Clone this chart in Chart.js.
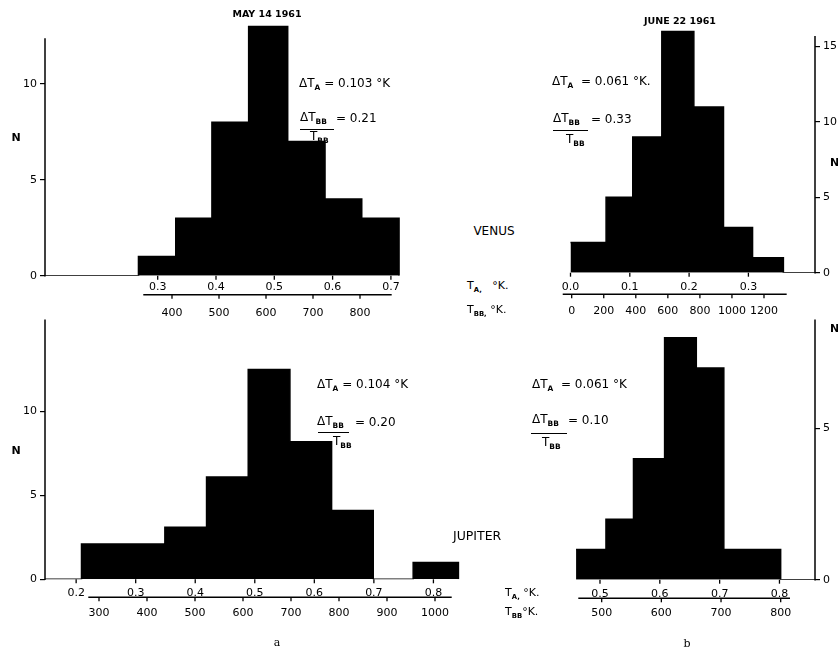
<!DOCTYPE html>
<html>
<head>
<meta charset="utf-8">
<script src="https://cdn.jsdelivr.net/npm/chart.js@4/dist/chart.umd.min.js"></script>
<style>
  html, body { margin:0; padding:0; background:#fff; }
  body { width:838px; height:652px; position:relative; overflow:hidden; font-family:'DejaVu Sans', sans-serif; color:#000; }
  canvas { position:absolute; }
  .t { position:absolute; white-space:nowrap; line-height:1; transform:translateY(-50%); font-size:12px; z-index:2; }
  .c { transform:translate(-50%,-50%); }
  .b { font-weight:bold; }
  .s { font-size:0.62em; vertical-align:-0.35em; font-weight:bold; }
  .fr { position:absolute; height:0; border-top:1.3px solid #000; z-index:2; }
  .serif { font-family:'DejaVu Serif', 'Liberation Serif', serif; }
</style>
</head>
<body>
<canvas id="cA" width="420" height="330" style="left:0px;top:0px"></canvas>
<canvas id="cB" width="308" height="330" style="left:530px;top:0px"></canvas>
<canvas id="cC" width="480" height="342" style="left:0px;top:310px"></canvas>
<canvas id="cD" width="308" height="342" style="left:530px;top:310px"></canvas>

<!-- titles -->
<div class="t c b" style="left:267px;top:14px;font-size:9.5px">MAY 14 1961</div>
<div class="t c b" style="left:680px;top:21px;font-size:9.5px">JUNE 22 1961</div>

<!-- N labels -->
<div class="t c b" style="left:16px;top:137px;font-size:11px">N</div>
<div class="t c b" style="left:16px;top:450px;font-size:11px">N</div>
<div class="t b" style="left:830px;top:162px;font-size:11px">N</div>
<div class="t b" style="left:830px;top:328px;font-size:11px">N</div>

<!-- Panel A annotations -->
<div class="t" style="left:299px;top:84px">&Delta;T<span class="s">A</span> = 0.103 °K</div>
<div class="t" style="left:300px;top:118px">&Delta;T<span class="s">BB</span></div>
<div class="t" style="left:336px;top:118px">= 0.21</div>
<div class="fr" style="left:300px;top:129px;width:34px"></div>
<div class="t" style="left:310px;top:137px">T<span class="s">BB</span></div>

<!-- Panel B annotations -->
<div class="t" style="left:552px;top:82px">&Delta;T<span class="s">A</span>&nbsp; = 0.061 °K.</div>
<div class="t" style="left:553px;top:119px">&Delta;T<span class="s">BB</span></div>
<div class="t" style="left:591px;top:119px">= 0.33</div>
<div class="fr" style="left:553px;top:130px;width:35px"></div>
<div class="t" style="left:566px;top:140px">T<span class="s">BB</span></div>
<div class="t c" style="left:494px;top:231px">VENUS</div>
<div class="t" style="left:467px;top:287px;font-size:11px">T<span class="s">A,</span>&nbsp;&nbsp;&nbsp;°K.</div>
<div class="t" style="left:467px;top:311px;font-size:11px">T<span class="s">BB,</span> °K.</div>

<!-- Panel C annotations -->
<div class="t" style="left:317px;top:385px">&Delta;T<span class="s">A</span> = 0.104 °K</div>
<div class="t" style="left:317px;top:422px">&Delta;T<span class="s">BB</span></div>
<div class="t" style="left:355px;top:422px">= 0.20</div>
<div class="fr" style="left:318px;top:432px;width:31px"></div>
<div class="t" style="left:333px;top:442px">T<span class="s">BB</span></div>
<div class="t" style="left:453px;top:536px;font-size:12.5px">JUPITER</div>
<div class="t serif c" style="left:277px;top:642px;font-size:11px">a</div>

<!-- Panel D annotations -->
<div class="t" style="left:532px;top:385px">&Delta;T<span class="s">A</span>&nbsp; = 0.061 °K</div>
<div class="t" style="left:532px;top:420px">&Delta;T<span class="s">BB</span></div>
<div class="t" style="left:568px;top:420px">= 0.10</div>
<div class="fr" style="left:531px;top:433px;width:36px"></div>
<div class="t" style="left:542px;top:443px">T<span class="s">BB</span></div>
<div class="t" style="left:505px;top:594px;font-size:11px">T<span class="s">A,</span> °K.</div>
<div class="t" style="left:505px;top:613px;font-size:11px">T<span class="s">BB</span>°K.</div>
<div class="t serif c" style="left:687px;top:643px;font-size:11px">b</div>

<script>
// ---------------- DATA ----------------
// Bin edges are on the T_A (°K) scale; counts are N per bin.
const venusMayEdges   = [0.267, 0.331, 0.393, 0.456, 0.523, 0.587, 0.650, 0.714];
const venusMayCounts  = [1, 3, 8, 13, 7, 4, 3];
const venusJuneEdges  = [0.000, 0.060, 0.105, 0.154, 0.208, 0.258, 0.307, 0.359];
const venusJuneCounts = [2, 5, 9, 16, 11, 3, 1];
const jupiterMayEdges  = [0.209, 0.279, 0.349, 0.419, 0.489, 0.559, 0.629, 0.699, 0.766, 0.842];
const jupiterMayCounts = [2.1, 2.1, 3.1, 6.1, 12.5, 8.2, 4.1, 0, 1];
const jupiterJuneEdges  = [0.460, 0.510, 0.556, 0.608, 0.661, 0.707, 0.754, 0.802];
const jupiterJuneCounts = [1, 2, 4, 8, 7, 1, 1];

// tick labels
const taTicksVenusMay   = [0.3, 0.4, 0.5, 0.6, 0.7];
const tbbTicksVenusMay  = [400, 500, 600, 700, 800];
const nTicksVenusMay    = [0, 5, 10];
const taTicksVenusJune  = [0.0, 0.1, 0.2, 0.3];
const tbbTicksVenusJune = [0, 200, 400, 600, 800, 1000, 1200];
const nTicksVenusJune   = [0, 5, 10, 15];
const taTicksJupMay     = [0.2, 0.3, 0.4, 0.5, 0.6, 0.7, 0.8];
const tbbTicksJupMay    = [300, 400, 500, 600, 700, 800, 900, 1000];
const nTicksJupMay      = [0, 5, 10];
const taTicksJupJune    = [0.5, 0.6, 0.7, 0.8];
const tbbTicksJupJune   = [500, 600, 700, 800];
const nTicksJupJune     = [0, 5];

// ---------------- RENDER ----------------
Chart.defaults.font.family = "'DejaVu Sans', sans-serif";
Chart.defaults.font.size = 11;
Chart.defaults.color = '#000';

function stepPoints(edges, counts, lead, trail) {
  const pts = [];
  if (lead !== null) pts.push({x: lead, y: 0});
  counts.forEach((c, i) => pts.push({x: edges[i], y: c}));
  pts.push({x: edges[edges.length - 1], y: 0});
  if (trail !== null) pts.push({x: trail, y: 0});
  return pts;
}

const deco = {
  id: 'deco',
  afterDatasetsDraw(chart, args, o) {
    const {ctx, chartArea: ca, scales: {x, x2, y}} = chart;
    ctx.save();
    ctx.strokeStyle = '#000';
    const L = (a, b, c, d, w) => { ctx.lineWidth = w; ctx.beginPath(); ctx.moveTo(a, b); ctx.lineTo(c, d); ctx.stroke(); };
    const ax = o.side === 'right' ? ca.right : ca.left;
    L(ax, y.getPixelForValue(o.axisTop), ax, y.getPixelForValue(0) + 0.75, 1.5);
    const sy = x2.top;
    L(x2.getPixelForValue(o.sep[0]), sy, x2.getPixelForValue(o.sep[1]), sy, 1.5);
    x2.ticks.forEach(t => { const p = x2.getPixelForValue(t.value); L(p, sy, p, sy + 4, 1.3); });
    x.ticks.forEach(t => { const p = x.getPixelForValue(t.value); L(p, x.top, p, x.top + 4, 1.3); });
    ctx.restore();
  }
};

function makePanel(id, cfg) {
  const fixTicks = arr => (axis) => { axis.ticks = arr.map(v => ({value: v})); };
  new Chart(document.getElementById(id), {
    type: 'line',
    data: {
      datasets: [{
        data: stepPoints(cfg.edges, cfg.counts, cfg.lead ? cfg.x.min : null, cfg.trail ? cfg.x.max : null),
        stepped: true,
        fill: 'origin',
        backgroundColor: '#000',
        borderColor: '#000',
        borderWidth: 1.5,
        borderJoinStyle: 'miter',
        pointRadius: 0,
        tension: 0
      }]
    },
    options: {
      responsive: false,
      animation: false,
      events: [],
      layout: { padding: cfg.padding },
      plugins: {
        legend: { display: false },
        tooltip: { enabled: false },
        deco: { side: cfg.side, axisTop: cfg.axisTop, sep: cfg.sep }
      },
      scales: {
        x: {
          type: 'linear', position: 'bottom', weight: 0,
          min: cfg.x.min, max: cfg.x.max,
          grid: { display: false, drawTicks: false },
          border: { display: false },
          ticks: { padding: cfg.x.pad, callback: v => v.toFixed(1), maxRotation: 0, autoSkip: false },
          afterBuildTicks: fixTicks(cfg.taTicks),
          afterFit: a => { a.height = cfg.x.h; }
        },
        x2: {
          type: 'linear', axis: 'x', position: 'bottom', weight: 1,
          min: cfg.x2.min, max: cfg.x2.max,
          grid: { display: false, drawTicks: false },
          border: { display: false },
          ticks: { padding: cfg.x2.pad, callback: v => String(Math.round(v)), maxRotation: 0, autoSkip: false },
          afterBuildTicks: fixTicks(cfg.tbbTicks),
          afterFit: a => { a.height = cfg.x2.h; }
        },
        y: {
          type: 'linear', position: cfg.side,
          min: 0, max: cfg.yMax,
          grid: { display: true, drawOnChartArea: false, drawTicks: true, tickLength: 5, color: '#000', lineWidth: 1.2 },
          border: { display: false },
          ticks: { padding: 3, callback: v => String(v), autoSkip: false },
          afterBuildTicks: fixTicks(cfg.nTicks),
          afterFit: a => { a.width = cfg.yW; }
        }
      }
    },
    plugins: [deco]
  });
}

makePanel('cA', {
  edges: venusMayEdges, counts: venusMayCounts, lead: true, trail: false,
  taTicks: taTicksVenusMay, tbbTicks: tbbTicksVenusMay, nTicks: nTicksVenusMay,
  side: 'left', yW: 45, yMax: 13.5, axisTop: 12.38,
  padding: { top: 16.9, right: 20, left: 0, bottom: 0 },
  x: { min: 0.1067, max: 0.7156, h: 19, pad: 4.7 },
  x2: { min: 129.8, max: 885.1, h: 35.3, pad: 11.7 },
  sep: [338.9, 867.4]
});

makePanel('cB', {
  edges: venusJuneEdges, counts: venusJuneCounts, lead: false, trail: true,
  taTicks: taTicksVenusJune, tbbTicks: tbbTicksVenusJune, nTicks: nTicksVenusJune,
  side: 'right', yW: 23, yMax: 16.5, axisTop: 15.7,
  padding: { top: 24, right: 0, left: 15, bottom: 0 },
  x: { min: -0.043, max: 0.4123, h: 21.6, pad: 7.7 },
  x2: { min: -166.6, max: 1518.3, h: 35.7, pad: 10.1 },
  sep: [-56, 1341.6]
});

makePanel('cC', {
  edges: jupiterMayEdges, counts: jupiterMayCounts, lead: true, trail: false,
  taTicks: taTicksJupMay, tbbTicks: tbbTicksJupMay, nTicks: nTicksJupMay,
  side: 'left', yW: 45, yMax: 15.48, axisTop: 15.48,
  padding: { top: 9.3, right: 18, left: 0, bottom: 0 },
  x: { min: 0.1477, max: 0.848, h: 18, pad: 7.4 },
  x2: { min: 187.5, max: 1056.25, h: 54.7, pad: 9.4 },
  sep: [277.7, 1034.8]
});

makePanel('cD', {
  edges: jupiterJuneEdges, counts: jupiterJuneCounts, lead: false, trail: true,
  taTicks: taTicksJupJune, tbbTicks: tbbTicksJupJune, nTicks: nTicksJupJune,
  side: 'right', yW: 23, yMax: 8.6, axisTop: 8.6,
  padding: { top: 8.3, right: 0, left: 15, bottom: 0 },
  x: { min: 0.4081, max: 0.8594, h: 18.6, pad: 7.7 },
  x2: { min: 405, max: 857.5, h: 53.7, pad: 7.8 },
  sep: [460.8, 815.6]
});
</script>
</body>
</html>
